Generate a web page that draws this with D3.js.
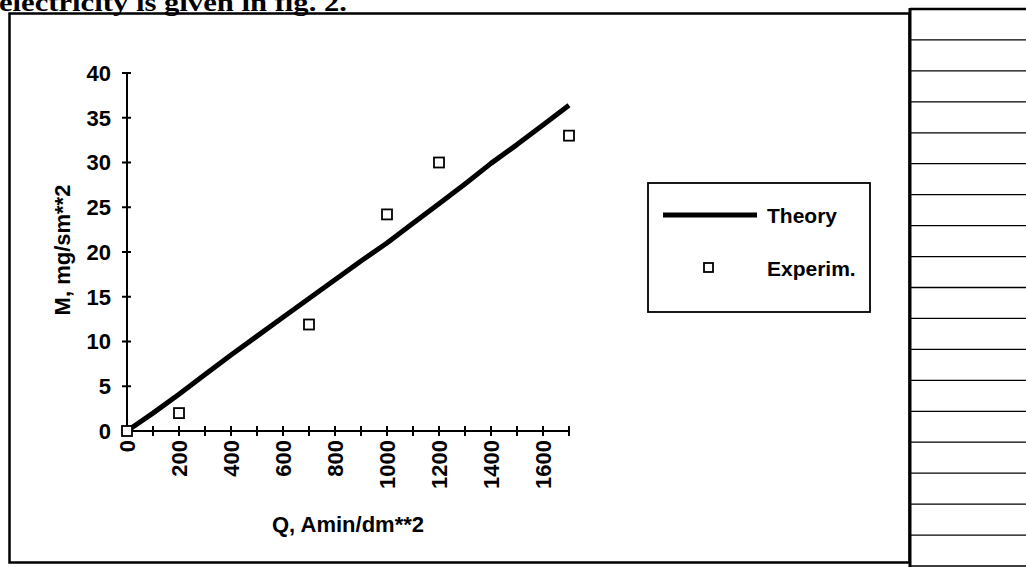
<!DOCTYPE html>
<html lang="en">
<head>
<meta charset="utf-8" />
<title>M vs Q</title>
<script src="https://d3js.org/d3.v7.min.js"></script>
<style>
  body { margin: 0; background: #fff; }
  svg { display: block; }
  text { font-family: "Liberation Sans", Arial, sans-serif; font-weight: bold; fill: #000; }
  text.cap { font-family: "Liberation Serif", "Times New Roman", serif; }
</style>
</head>
<body>
<svg width="1026" height="567"></svg>
<script>
// theory curve, M at every 100 Amin/dm**2
var theoryQ = [0, 100, 200, 300, 400, 500, 600, 700, 800, 900, 1000, 1100, 1200, 1300, 1400, 1500, 1600, 1700];
var theoryM = [0, 2.0, 4.1, 6.3, 8.5, 10.6, 12.7, 14.8, 16.9, 19.0, 21.0, 23.2, 25.4, 27.6, 29.9, 32.0, 34.2, 36.4];

// experimental points
var expQ = [0, 200, 700, 1000, 1200, 1700];
var expM = [0, 2.0, 11.9, 24.2, 30.0, 33.0];

var yTicks = [0, 5, 10, 15, 20, 25, 30, 35, 40];
var xMinor = d3.range(0, 1701, 100);
var xLabels = [0, 200, 400, 600, 800, 1000, 1200, 1400, 1600];

var legendNames = ["Theory", "Experim."];

var svg = d3.select("svg");

// text above the figure, mostly cut off by the page edge
svg.append("text")
  .attr("class", "cap")
  .attr("x", -1)
  .attr("y", 11)
  .attr("font-size", 25)
  .attr("textLength", 348)
  .attr("lengthAdjust", "spacingAndGlyphs")
  .text("electricity is given in fig. 2.");

// chart frame
svg.append("rect")
  .attr("x", 9.5).attr("y", 13.5)
  .attr("width", 900).attr("height", 549)
  .attr("fill", "none").attr("stroke", "#000").attr("stroke-width", 2.5);

// ruled table to the right
var rule = d3.scaleLinear().domain([0, 18]).range([9, 566]);
svg.append("g").selectAll("line")
  .data(d3.range(19))
  .enter().append("line")
  .attr("x1", 910).attr("x2", 1026)
  .attr("y1", function (d) { return rule(d); })
  .attr("y2", function (d) { return rule(d); })
  .attr("stroke", "#000")
  .attr("stroke-width", function (d) { return d === 0 ? 2.5 : 1.3; });
svg.append("line")
  .attr("x1", 910).attr("x2", 910).attr("y1", 8).attr("y2", 567)
  .attr("stroke", "#000").attr("stroke-width", 3);

// scales
var x = d3.scaleLinear().domain([0, 1700]).range([127, 569]);
var y = d3.scaleLinear().domain([0, 40]).range([431, 73]);

// y axis
var gy = svg.append("g").attr("transform", "translate(" + x(0) + ",0)");
gy.append("line")
  .attr("y1", y(40)).attr("y2", y(0))
  .attr("stroke", "#000").attr("stroke-width", 2);
gy.selectAll("line.t")
  .data(yTicks).enter().append("line")
  .attr("class", "t")
  .attr("x1", -5).attr("x2", 4)
  .attr("y1", function (d) { return y(d); })
  .attr("y2", function (d) { return y(d); })
  .attr("stroke", "#000").attr("stroke-width", 2);
gy.selectAll("text")
  .data(yTicks).enter().append("text")
  .attr("x", -16)
  .attr("y", function (d) { return y(d); })
  .attr("dy", "0.36em")
  .attr("text-anchor", "end")
  .attr("font-size", 22)
  .text(function (d) { return d; });

// x axis
var gx = svg.append("g").attr("transform", "translate(0," + y(0) + ")");
gx.append("line")
  .attr("x1", x(0)).attr("x2", x(1700))
  .attr("stroke", "#000").attr("stroke-width", 2);
gx.selectAll("line.t")
  .data(xMinor).enter().append("line")
  .attr("class", "t")
  .attr("x1", function (d) { return x(d); })
  .attr("x2", function (d) { return x(d); })
  .attr("y1", -5).attr("y2", 5)
  .attr("stroke", "#000").attr("stroke-width", 2);
gx.selectAll("text")
  .data(xLabels).enter().append("text")
  .attr("transform", function (d) { return "translate(" + x(d) + ",9) rotate(-90)"; })
  .attr("dy", "0.36em")
  .attr("text-anchor", "end")
  .attr("font-size", 22)
  .text(function (d) { return d; });

// axis titles
svg.append("text")
  .attr("x", (x(0) + x(1700)) / 2)
  .attr("y", 532)
  .attr("text-anchor", "middle")
  .attr("font-size", 22)
  .text("Q, Amin/dm**2");

svg.append("text")
  .attr("transform", "translate(70,250) rotate(-90)")
  .attr("text-anchor", "middle")
  .attr("font-size", 22)
  .text("M, mg/sm**2");

// theory line
var line = d3.line()
  .x(function (d, i) { return x(theoryQ[i]); })
  .y(function (d) { return y(d); });
svg.append("path")
  .datum(theoryM)
  .attr("d", line)
  .attr("fill", "none")
  .attr("stroke", "#000")
  .attr("stroke-width", 5)
  .attr("stroke-linejoin", "round");

// experimental squares
svg.append("g").selectAll("rect")
  .data(expM).enter().append("rect")
  .attr("x", function (d, i) { return x(expQ[i]) - 5; })
  .attr("y", function (d) { return y(d) - 5; })
  .attr("width", 10).attr("height", 10)
  .attr("fill", "#fff")
  .attr("stroke", "#000").attr("stroke-width", 1.8);

// legend
var lg = svg.append("g").attr("transform", "translate(648,183)");
lg.append("rect")
  .attr("width", 222).attr("height", 129)
  .attr("fill", "#fff").attr("stroke", "#000").attr("stroke-width", 1.8);
lg.append("line")
  .attr("x1", 15).attr("x2", 109).attr("y1", 32).attr("y2", 32)
  .attr("stroke", "#000").attr("stroke-width", 5);
lg.append("rect")
  .attr("x", 56).attr("y", 80).attr("width", 9).attr("height", 9)
  .attr("fill", "#fff").attr("stroke", "#000").attr("stroke-width", 1.8);
lg.selectAll("text.l")
  .data(legendNames).enter().append("text")
  .attr("class", "l")
  .attr("x", 119)
  .attr("y", function (d, i) { return 32 + i * 53; })
  .attr("dy", "0.36em")
  .attr("font-size", 21)
  .text(function (d) { return d; });
</script>
</body>
</html>
